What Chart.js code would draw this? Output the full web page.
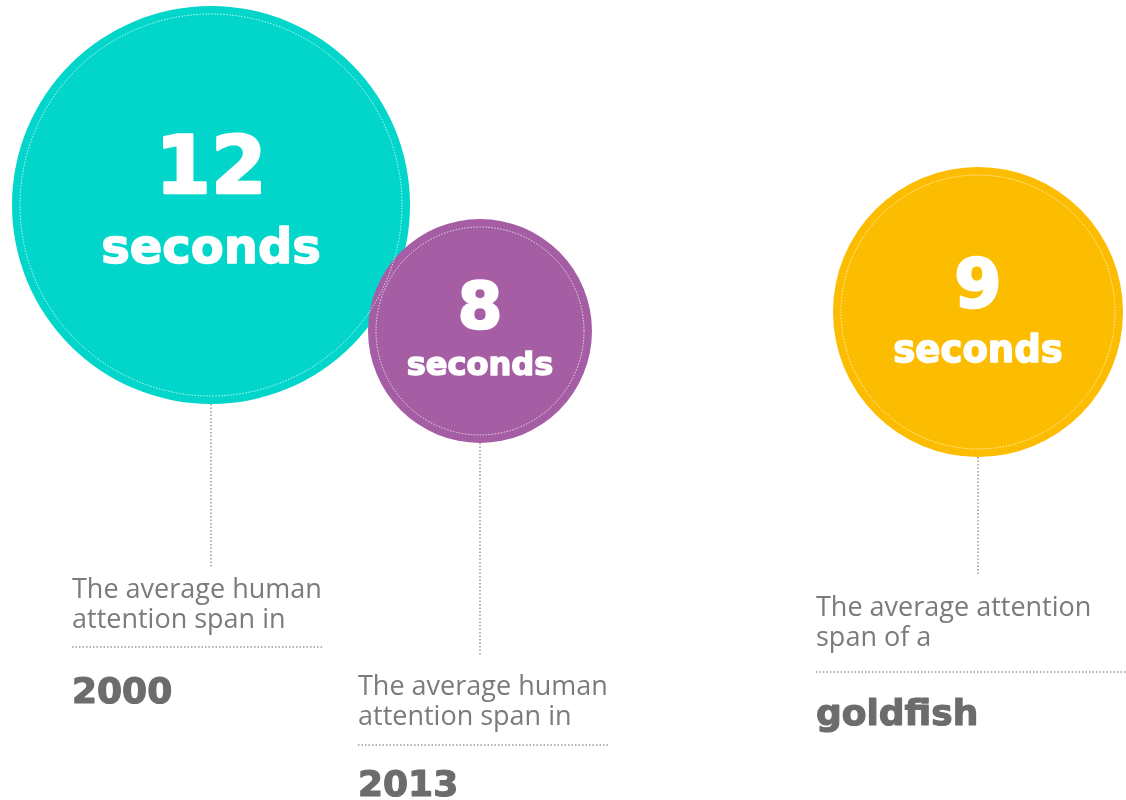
<!DOCTYPE html>
<html lang="en">
<head>
    <meta charset="UTF-8">
    <title>Attention span</title>
    <script src="https://cdn.jsdelivr.net/npm/chart.js"></script>
    <style>
        body {
            margin: 0;
            background-color: #ffffff;
        }

        #wrap {
            width: 1126px;
            height: 800px;
        }
    </style>
</head>
<body>
    <div id="wrap">
        <canvas id="spanChart" width="1126" height="800"></canvas>
    </div>
    <script>
        // data
        const categories = ['2000', '2013', 'goldfish'];
        const seconds = [12, 8, 9];
        const unitLabel = 'seconds';
        const captions = [
            ['The average human', 'attention span in'],
            ['The average human', 'attention span in'],
            ['The average attention', 'span of a']
        ];

        // layout (page pixels), kept apart from the data
        const bubbleX = [211, 480, 978];
        const bubbleY = [205, 331, 312];
        const bubbleR = [199, 112, 145];
        const colors = ['#02d6ca', '#a55ea4', '#fcbd00'];
        const numberSize = [80, 64, 68];
        const unitSize = [48, 32, 37];
        const numberDy = [-12, -3, -5];
        const unitDy = [58, 44, 50];
        const lineEnd = [568, 655, 575];
        const captionX = [72, 358, 816];
        const captionBase = [598, 695, 616];
        const lineGap = 30;
        const ruleY = [647, 745, 672];
        const ruleW = [250, 250, 310];
        const labelBase = [703, 796, 725];

        const heavy = "bold {s}px 'DejaVu Sans', sans-serif";
        const light = "{s}px 'Open Sans', 'Noto Sans', sans-serif";

        function font(tpl, size) {
            return tpl.replace('{s}', size);
        }

        // fill + same-colour stroke to get closer to a black weight
        function heavyText(ctx, text, x, y, size, color, extra) {
            ctx.font = font(heavy, size);
            ctx.fillStyle = color;
            ctx.strokeStyle = color;
            ctx.lineWidth = extra;
            ctx.lineJoin = 'round';
            ctx.fillText(text, x, y);
            ctx.strokeText(text, x, y);
        }

        function dotted(ctx, x1, y1, x2, y2) {
            ctx.save();
            ctx.strokeStyle = '#9a9a9a';
            ctx.lineWidth = 1.5;
            ctx.setLineDash([1.5, 2]);
            ctx.beginPath();
            ctx.moveTo(x1, y1);
            ctx.lineTo(x2, y2);
            ctx.stroke();
            ctx.restore();
        }

        const decorations = {
            id: 'decorations',
            beforeDatasetsDraw(chart) {
                // connector lines under the bubbles
                const ctx = chart.ctx;
                chart.getDatasetMeta(0).data.forEach((pt, i) => {
                    dotted(ctx, pt.x, pt.y + bubbleR[i], pt.x, lineEnd[i]);
                });
            },
            afterDatasetsDraw(chart) {
                const ctx = chart.ctx;
                chart.getDatasetMeta(0).data.forEach((pt, i) => {
                    const r = bubbleR[i];

                    // inner white dotted ring
                    ctx.save();
                    ctx.strokeStyle = 'rgba(255,255,255,0.75)';
                    ctx.lineWidth = 1;
                    ctx.setLineDash([1.5, 1.5]);
                    ctx.beginPath();
                    ctx.arc(pt.x, pt.y, r - 8, 0, Math.PI * 2);
                    ctx.stroke();
                    ctx.restore();

                    // value + unit
                    ctx.save();
                    ctx.textAlign = 'center';
                    ctx.textBaseline = 'alphabetic';
                    heavyText(ctx, String(seconds[i]), pt.x, pt.y + numberDy[i], numberSize[i], '#ffffff', 2.5);
                    heavyText(ctx, unitLabel, pt.x, pt.y + unitDy[i], unitSize[i], '#ffffff', 1.5);
                    ctx.restore();

                    // caption block
                    const x = captionX[i];
                    ctx.save();
                    ctx.fillStyle = '#7b7b7b';
                    ctx.textAlign = 'left';
                    ctx.textBaseline = 'alphabetic';
                    ctx.font = font(light, 27);
                    captions[i].forEach((line, k) => {
                        ctx.fillText(line, x, captionBase[i] + k * lineGap);
                    });
                    ctx.restore();
                    dotted(ctx, x, ruleY[i], x + ruleW[i], ruleY[i]);

                    ctx.save();
                    ctx.textAlign = 'left';
                    heavyText(ctx, categories[i], x, labelBase[i], 36, '#6c6c6c', 1.2);
                    ctx.restore();
                });
            }
        };

        const ctx = document.getElementById('spanChart').getContext('2d');
        new Chart(ctx, {
            type: 'bubble',
            data: {
                datasets: [{
                    label: 'Attention span (seconds)',
                    data: seconds.map((v, i) => ({ x: bubbleX[i], y: bubbleY[i], r: bubbleR[i], v: v })),
                    backgroundColor: colors,
                    borderWidth: 0,
                    hoverRadius: 0,
                    clip: false
                }]
            },
            options: {
                responsive: false,
                animation: false,
                events: [],
                layout: { padding: 0, autoPadding: false },
                plugins: {
                    legend: { display: false },
                    tooltip: { enabled: false }
                },
                scales: {
                    x: { type: 'linear', min: 0, max: 1126, display: false },
                    y: { type: 'linear', min: 0, max: 800, reverse: true, display: false }
                }
            },
            plugins: [decorations]
        });
    </script>
</body>
</html>
